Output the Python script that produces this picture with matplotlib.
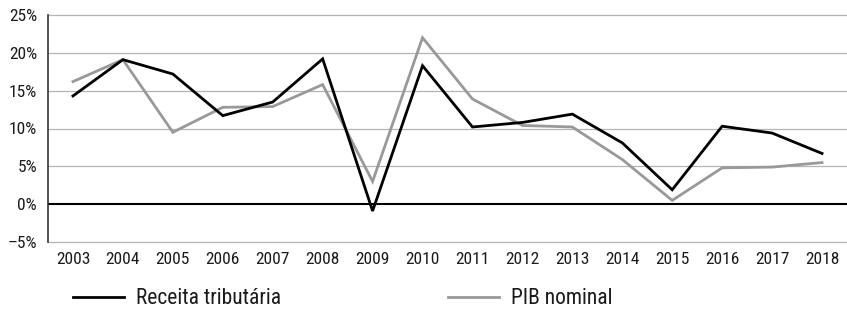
import matplotlib
matplotlib.use("Agg")
import matplotlib.pyplot as plt
from matplotlib import font_manager
from matplotlib.lines import Line2D

# ---------------------------------------------------------------------------
# Data (% a.a.)
# ---------------------------------------------------------------------------

YEARS = [str(y) for y in range(2003, 2019)]
RECEITA = [14.3, 19.1, 17.2, 11.7, 13.5, 19.2, -0.9, 18.3,
           10.2, 10.8, 11.9, 8.1, 1.9, 10.3, 9.4, 6.7]
PIB = [16.2, 19.1, 9.5, 12.8, 12.9, 15.8, 3.0, 22.0,
       13.9, 10.4, 10.2, 5.9, 0.5, 4.8, 4.9, 5.5]
Y_TICKS = [-5, 0, 5, 10, 15, 20, 25]
Y_LABELS = ["\u20135%", "0%", "5%", "10%", "15%", "20%", "25%"]
LEGEND_LABELS = ["Receita tribut\u00e1ria", "PIB nominal"]

BLACK = "#000000"
GRAY = "#999999"
GRID = "#b4b4b4"
TEXT = "#1a1a1a"

# pick a narrow-ish sans if one is around
installed = {f.name for f in font_manager.fontManager.ttflist}
prefs = ["Roboto Condensed", "Liberation Sans Narrow", "Open Sans Condensed",
         "Noto Sans Condensed", "Roboto", "Liberation Sans"]
FONT = [f for f in prefs if f in installed][:1] + ["DejaVu Sans"]
plt.rcParams["font.family"] = FONT

fig = plt.figure(figsize=(8.47, 3.09), dpi=100)
ax = fig.add_axes([48 / 847, 1 - 242 / 309, 1 - 48 / 847, 227 / 309])

x = list(range(len(YEARS)))
for yv in Y_TICKS:
    if yv == 0:
        continue
    ax.axhline(yv, color=GRID, linewidth=0.9, zorder=1, clip_on=False)
ax.axhline(0, color=BLACK, linewidth=1.5, zorder=2)

ax.plot(x, PIB, color=GRAY, linewidth=2.0, zorder=3, solid_joinstyle="miter")
ax.plot(x, RECEITA, color=BLACK, linewidth=2.0, zorder=4, solid_joinstyle="miter")

ax.set_xlim(-0.5, len(YEARS) - 0.5)
ax.set_ylim(-5, 25)
ax.set_xticks(x)
ax.set_xticklabels(YEARS, fontsize=12.5)
ax.set_yticks(Y_TICKS)
ax.set_yticklabels(Y_LABELS, fontsize=12.5)
ax.tick_params(axis="both", length=0, colors=TEXT)
ax.tick_params(axis="x", pad=7)
ax.tick_params(axis="y", pad=8)

for side in ["top", "right", "bottom"]:
    ax.spines[side].set_visible(False)
ax.spines["left"].set_color("#333333")
ax.spines["left"].set_linewidth(1.2)

# Legend: two entries placed separately, like the source layout
for color, label, x0 in [(BLACK, LEGEND_LABELS[0], 73 / 847),
                         (GRAY, LEGEND_LABELS[1], 448 / 847)]:
    fig.legend([Line2D([], [], color=color, linewidth=2.0)], [label],
               loc="center left", bbox_to_anchor=(x0, 10 / 309),
               frameon=False, fontsize=15.5, handlelength=2.37,
               handletextpad=0.55, borderpad=0, borderaxespad=0,
               labelcolor=TEXT)

fig.savefig("out.png", dpi=100, facecolor="white")
